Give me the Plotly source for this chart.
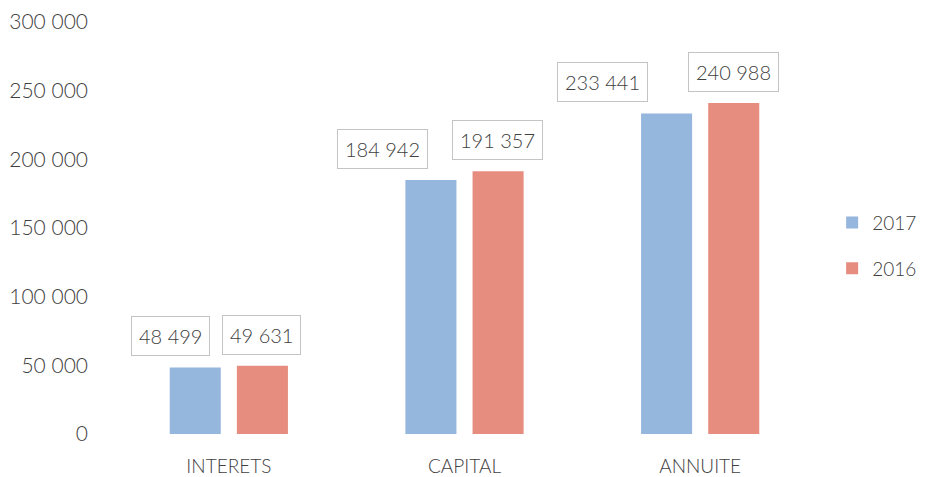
import plotly.graph_objects as go

categories = ["INTERETS", "CAPITAL", "ANNUITE"]
values_2017 = [48499, 184942, 233441]
values_2016 = [49631, 191357, 240988]
series_names = ["2017", "2016"]
y_ticks = [0, 50000, 100000, 150000, 200000, 250000, 300000]

BLUE = "#95b6dd"
RED = "#e68d7f"
TEXT = "#404040"
FONT = "Lato, 'Open Sans', sans-serif"

# horizontal offsets (px) of the value boxes relative to the category centre
shift_2017 = [-58, -82, -98]
shift_2016 = [33, 33, 33]


def fmt(v):
    return f"{v:,}".replace(",", " ")


fig = go.Figure()
fig.add_trace(go.Bar(x=categories, y=values_2017, name=series_names[0],
                     legendgroup="a",
                     marker=dict(color=BLUE, line=dict(width=0))))
fig.add_trace(go.Bar(x=categories, y=values_2016, name=series_names[1],
                     legendgroup="b",
                     marker=dict(color=RED, line=dict(width=0))))

annotations = []
for vals, shifts in ((values_2017, shift_2017), (values_2016, shift_2016)):
    for cat, v, s in zip(categories, vals, shifts):
        annotations.append(dict(
            x=cat, y=v, xref="x", yref="y", text=fmt(v), showarrow=False,
            xanchor="center", yanchor="bottom", xshift=s, yshift=11,
            font=dict(family=FONT, size=20, color=TEXT, weight=300),
            bordercolor="#c4c4c4", borderwidth=1, borderpad=7,
            bgcolor="white",
        ))

# the page body adds an 8 px offset, so the figure is 8 px smaller
fig.update_layout(
    width=917, height=469,
    margin=dict(l=103, r=107, t=14, b=43, autoexpand=False),
    paper_bgcolor="white", plot_bgcolor="white",
    barmode="group", bargap=0.43, bargroupgap=0.24,
    separators=", ",
    font=dict(family=FONT, size=16, color=TEXT),
    showlegend=True,
    legend=dict(x=1.020, y=0.457, xanchor="left", yanchor="middle",
                font=dict(family=FONT, size=19, color=TEXT, weight=300),
                itemwidth=30, tracegroupgap=18, bgcolor="rgba(0,0,0,0)"),
    annotations=annotations,
)
fig.update_yaxes(range=[0, 300000], tickvals=y_ticks,
                 ticktext=[fmt(t) for t in y_ticks],
                 showgrid=False, zeroline=False, showline=False,
                 tickfont=dict(family=FONT, size=21, color=TEXT, weight=300),
                 ticks="", ticklabelstandoff=22, ticklabeloverflow="allow")
fig.update_xaxes(showgrid=False, showline=False, ticks="",
                 ticklabelstandoff=19,
                 tickfont=dict(family=FONT, size=19, color=TEXT, weight=300))

fig.write_html("out.html")
